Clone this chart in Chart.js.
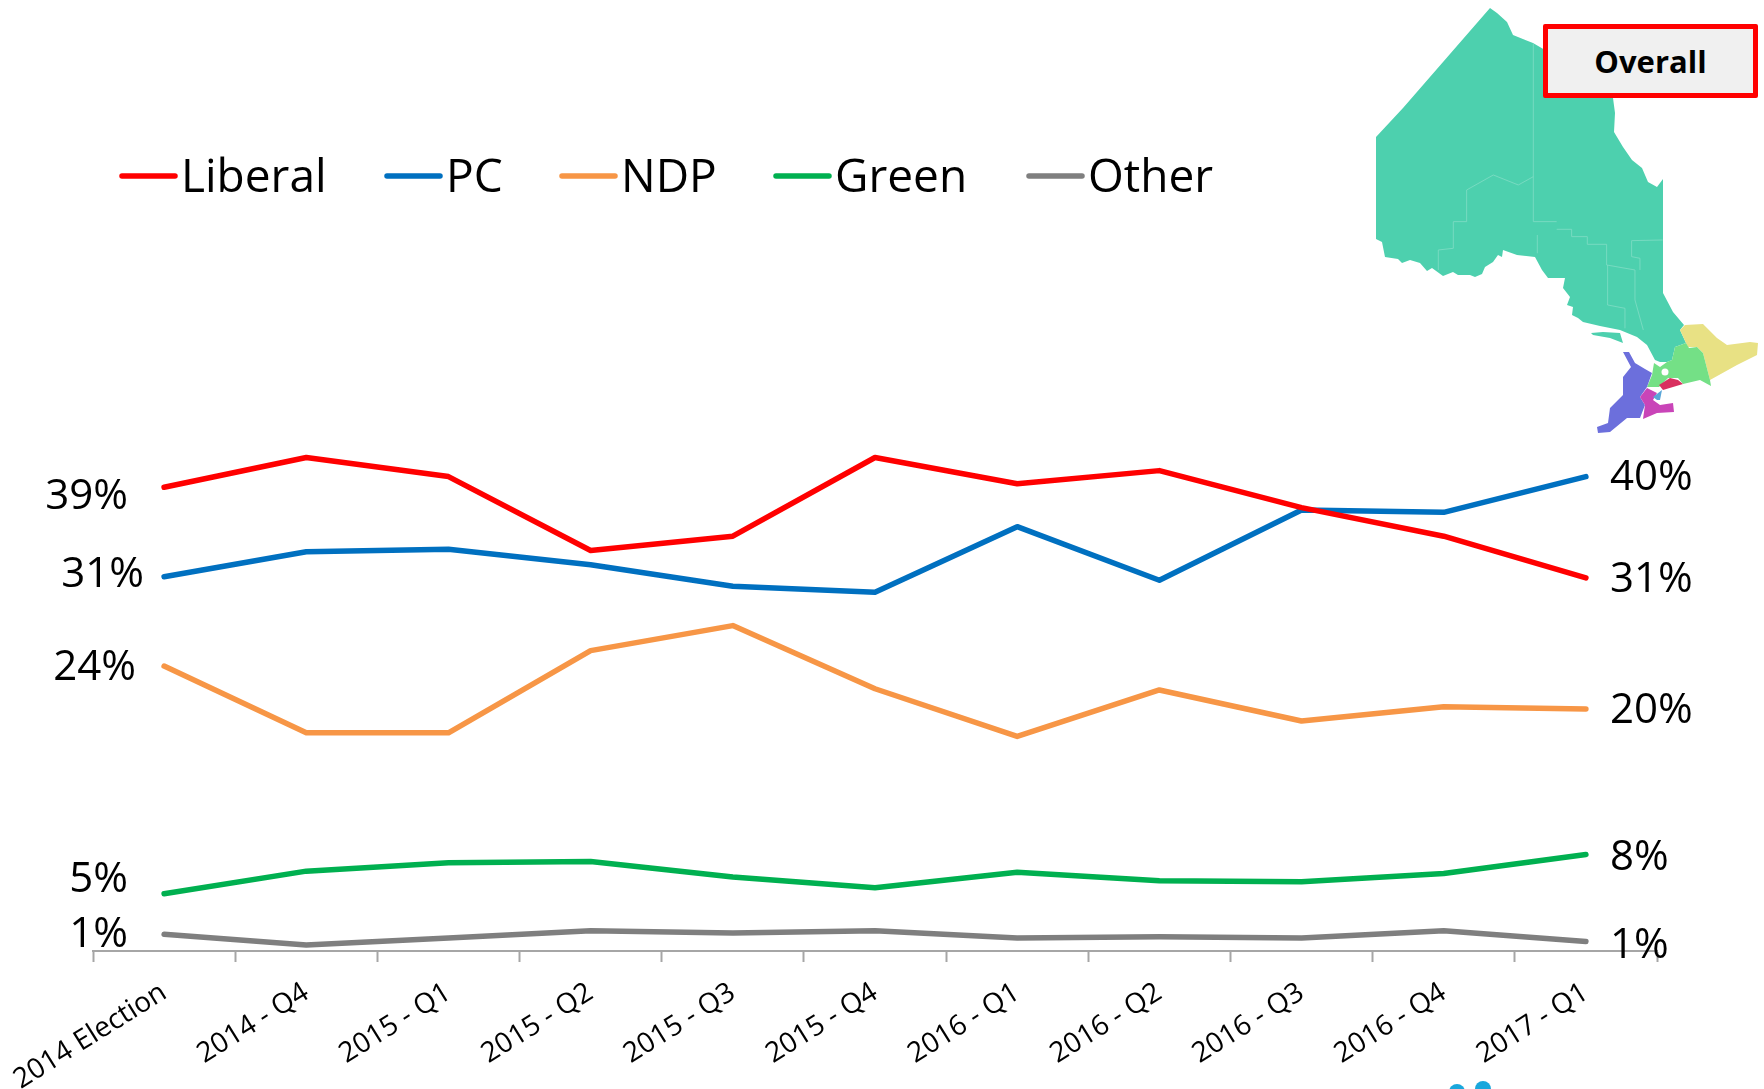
<!DOCTYPE html>
<html>
<head>
<meta charset="utf-8">
<title>Ontario vote intention - Overall</title>
<script src="https://cdn.jsdelivr.net/npm/chart.js@4"></script>
<style>
  html, body { margin: 0; padding: 0; background: #fff; overflow: hidden; }
  #wrap { position: relative; width: 1764px; height: 1089px; }
  #chart { position: absolute; left: 0; top: 0; }
  #map { position: absolute; left: 0; top: 0; }
  #overall {
    position: absolute; left: 1543px; top: 24px; width: 205px; height: 64px;
    border: 5px solid #ff0000; border-radius: 2px; background: #f0f0f0;
    font: bold 31px "Open Sans", sans-serif; color: #000;
    text-align: center; line-height: 64px;
  }
</style>
</head>
<body>
<div id="wrap">
  <canvas id="chart" width="1764" height="1089"></canvas>
  <svg id="map" width="1764" height="1089" viewBox="0 0 1764 1089">
    <path fill="#4dd0ae" d="M1490 8 L1497 13 L1507 22 L1513 35 L1533 43 L1545 50 L1613 98 L1615 113 L1614 132 L1623 147 L1632 160 L1642 168 L1648 182 L1657 187 L1663 179 L1663 293 L1673 312 L1684 325 L1680 330 L1686 343 L1675 347 L1672 360 L1667 362 L1660 362 L1655 360 L1647 345 L1637 337 L1620 330 L1600 326 L1583 322 L1578 318 L1572 315 L1573 307 L1567 305 L1570 297 L1563 288 L1565 278 L1548 278 L1542 270 L1535 257 L1517 255 L1503 250 L1502 257 L1498 255 L1493 262 L1485 267 L1482 274 L1475 277 L1470 275 L1458 275 L1453 272 L1443 276 L1432 268 L1427 271 L1420 263 L1410 260 L1402 263 L1398 259 L1385 257 L1382 242 L1376 239 L1376 137 L1403 108 Z"/>
    <path fill="#4dd0ae" d="M1591 333 L1603 332 L1620 333 L1623 343 L1610 338 L1593 335 Z"/>
    <g fill="none" stroke="#7fdcc4" stroke-width="2.5" transform="translate(1340 0) scale(0.3333)">
      <path d="M580 130 L580 665 L650 665 M650 688 L695 688 L695 710 L742 710 L742 733 L800 733 L800 795 L885 810 L885 900 L910 990"/>
      <path d="M380 570 L460 525 L535 555 L580 530 M380 570 L380 665 L340 665 L340 745 L295 750 L295 810"/>
      <path d="M592 705 L592 760 M803 795 L803 915 L855 925 L855 985 M875 722 L968 720 M875 722 L875 770 L900 775 L900 810"/>
    </g>
    <path fill="#e8e184" d="M1680 330 L1685 325 L1703 324 L1717 338 L1727 345 L1750 342 L1758 343 L1757 355 L1737 365 L1710 380 L1703 353 L1697 347 L1688 347 L1686 343 Z"/>
    <path fill="#74e086" d="M1675 347 L1686 343 L1689 348 L1697 347 L1703 353 L1710 380 L1711 386 L1700 380 L1683 384 L1678 378 L1668 378 L1659 387 L1647 387 L1652 375 L1654 363 L1660 367 L1667 362 L1672 360 Z"/>
    <circle cx="1665" cy="372" r="3.5" fill="#fff"/>
    <path fill="#d9305f" d="M1659 385 L1670 378 L1678 380 L1683 384 L1663 390 Z"/>
    <path fill="#6c6fdc" d="M1623 352 L1629 352 L1635 363 L1645 369 L1652 373 L1647 387 L1640 397 L1645 405 L1640 418 L1627 418 L1610 432 L1598 433 L1597 427 L1608 423 L1610 408 L1623 395 L1623 377 L1631 367 Z"/>
    <path fill="#c944b8" d="M1640 397 L1647 388 L1657 393 L1653 400 L1660 405 L1673 403 L1674 412 L1657 413 L1643 419 L1645 405 Z"/>
    <path fill="#5aa6d8" d="M1653 397 L1662 390 L1660 400 L1657 400 Z"/>
    <circle cx="1457" cy="1092" r="8" fill="#1aa7dc"/>
    <circle cx="1483" cy="1089" r="8" fill="#1aa7dc"/>
  </svg>
  <div id="overall">Overall</div>
</div>
<script>
// Datos
const categories = ['2014 Election', '2014 - Q4', '2015 - Q1', '2015 - Q2', '2015 - Q3', '2015 - Q4', '2016 - Q1', '2016 - Q2', '2016 - Q3', '2016 - Q4', '2017 - Q1'];
const liberal = [38.9, 41.4, 39.8, 33.6, 34.8, 41.4, 39.2, 40.3, 37.2, 34.8, 31.3];
const pc = [31.4, 33.5, 33.7, 32.4, 30.6, 30.1, 35.6, 31.1, 37.0, 36.8, 39.8];
const ndp = [23.9, 18.3, 18.3, 25.2, 27.3, 22.0, 18.0, 21.9, 19.3, 20.5, 20.3];
const green = [4.8, 6.7, 7.4, 7.5, 6.2, 5.3, 6.6, 5.9, 5.8, 6.5, 8.1];
const other = [1.4, 0.5, 1.1, 1.7, 1.5, 1.7, 1.1, 1.2, 1.1, 1.7, 0.8];
const startLabels = ['39%', '31%', '24%', '5%', '1%'];
const endLabels = ['31%', '40%', '20%', '8%', '1%'];

const makeSeries = (label, data, color) => ({
    label: label,
    data: data,
    borderColor: color,
    backgroundColor: color,
    borderWidth: 5.5,
    pointRadius: 0,
    tension: 0,
    borderCapStyle: 'round',
    borderJoinStyle: 'round',
    clip: false,
});

const labelFont = '42px "Open Sans", sans-serif';
const legendFont = '46px "Open Sans", sans-serif';

// Leyenda y etiquetas de inicio/fin dibujadas sobre el canvas
const legendX = [122, 387, 562, 776, 1029];
const legendY = 179;
const startRight = [128, 144, 136, 128, 128];
const startY = [497, 575, 668, 880, 935];
const endY = [580, 478, 711, 858, 946];

const overlayPlugin = {
    id: 'overlay',
    afterDatasetsDraw(chart) {
        const ctx = chart.ctx;
        ctx.save();
        ctx.fillStyle = '#000';
        ctx.textBaseline = 'middle';

        ctx.font = legendFont;
        chart.data.datasets.forEach((ds, i) => {
            ctx.strokeStyle = ds.borderColor;
            ctx.lineWidth = 5.5;
            ctx.lineCap = 'round';
            ctx.beginPath();
            ctx.moveTo(legendX[i], legendY - 3);
            ctx.lineTo(legendX[i] + 53, legendY - 3);
            ctx.stroke();
            ctx.textAlign = 'left';
            ctx.fillText(ds.label, legendX[i] + 59, legendY);
        });

        ctx.font = labelFont;
        startLabels.forEach((text, i) => {
            ctx.textAlign = 'right';
            ctx.fillText(text, startRight[i], startY[i]);
        });
        endLabels.forEach((text, i) => {
            ctx.textAlign = 'left';
            ctx.fillText(text, 1610, endY[i]);
        });
        ctx.restore();
    },
};

new Chart(document.getElementById('chart').getContext('2d'), {
    type: 'line',
    data: {
        labels: categories,
        datasets: [
            makeSeries('Liberal', liberal, '#ff0000'),
            makeSeries('PC', pc, '#0070c0'),
            makeSeries('NDP', ndp, '#f79646'),
            makeSeries('Green', green, '#00b050'),
            makeSeries('Other', other, '#7f7f7f'),
        ],
    },
    plugins: [overlayPlugin],
    options: {
        responsive: false,
        animation: false,
        layout: { padding: { left: 93, right: 107, top: 355, bottom: 0 } },
        plugins: { legend: { display: false }, title: { display: false }, tooltip: { enabled: false } },
        scales: {
            x: {
                offset: true,
                afterFit: (scale) => {
                    scale.height = 138;
                    scale.paddingLeft = 0;
                    scale.paddingRight = 0;
                },
                border: { color: '#a6a6a6', width: 2 },
                grid: { offset: true, drawOnChartArea: false, tickLength: 11, tickColor: '#a6a6a6', tickWidth: 2 },
                ticks: {
                    minRotation: 32,
                    maxRotation: 32,
                    padding: 14,
                    autoSkip: false,
                    color: '#000',
                    font: { family: '"Open Sans", sans-serif', size: 28 },
                },
            },
            y: { display: false, min: 0, max: 50 },
        },
    },
});
</script>
</body>
</html>
